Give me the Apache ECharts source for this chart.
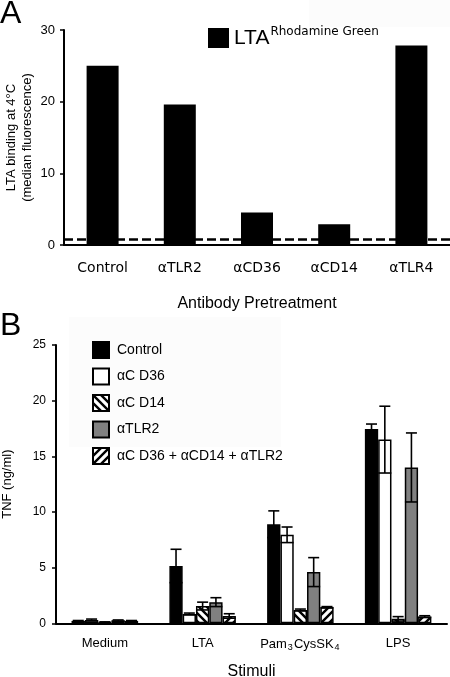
<!DOCTYPE html>
<html>
<head>
<meta charset="utf-8">
<script src="https://cdn.jsdelivr.net/npm/echarts@6/dist/echarts.min.js"></script>
<style>
html,body{margin:0;padding:0;background:#fff;}
#c{width:450px;height:677px;}
</style>
</head>
<body>
<div id="c"></div>
<script>
// ---- Panel A data ----
var catsA = ['Control', 'αTLR2', 'αCD36', 'αCD14', 'αTLR4'];
var valsA = [25.0, 19.6, 4.55, 2.9, 27.85];
var baselineA = 0.8;
var ticksA = [0, 10, 20, 30];

// ---- Panel B data ----
var catsB = ['Medium', 'LTA', 'Pam3CysSK4', 'LPS'];
var seriesNamesB = ['Control', 'αC D36', 'αC D14', 'αTLR2', 'αC D36 + αCD14 + αTLR2'];
var controlB = [0.2, 5.15, 8.9, 17.45];
var cd36B = [0.3, 0.84, 7.95, 16.5];
var cd14B = [0.1, 1.55, 1.2, 0.4];
var tlr2B = [0.25, 1.9, 4.6, 14.0];
var comboB = [0.2, 0.66, 1.45, 0.6];
var controlErr = [0.05, 1.5, 1.2, 0.45];
var cd36Err = [0.08, 0.08, 0.7, 3.0];
var cd14Err = [0.03, 0.35, 0.08, 0.2];
var tlr2Err = [0.05, 0.4, 1.3, 3.1];
var comboErr = [0.05, 0.2, 0.05, 0.08];
var ticksB = [0, 5, 10, 15, 20, 25];

function makePattern(dir) {
  var s = 8;
  var cv = document.createElement('canvas');
  cv.width = s; cv.height = s;
  var ctx = cv.getContext('2d');
  ctx.fillStyle = '#fff';
  ctx.fillRect(0, 0, s, s);
  ctx.strokeStyle = '#000';
  ctx.lineWidth = 2.4;
  ctx.beginPath();
  if (dir === 'back') {
    ctx.moveTo(-2, -2); ctx.lineTo(s + 2, s + 2);
    ctx.moveTo(-2, s - 2); ctx.lineTo(2, s + 2);
    ctx.moveTo(s - 2, -2); ctx.lineTo(s + 2, 2);
  } else {
    ctx.moveTo(-2, s + 2); ctx.lineTo(s + 2, -2);
    ctx.moveTo(-2, 2); ctx.lineTo(2, -2);
    ctx.moveTo(s - 2, s + 2); ctx.lineTo(s + 2, s - 2);
  }
  ctx.stroke();
  return {image: cv, repeat: 'repeat'};
}

var BW = 13.3;
var valsB = [controlB, cd36B, cd14B, tlr2B, comboB];
var errsB = [controlErr, cd36Err, cd14Err, tlr2Err, comboErr];
var colorsB = ['#000000', '#ffffff', makePattern('back'), '#808080', makePattern('fwd')];

var errData = [];
for (var s = 0; s < valsB.length; s++) {
  for (var c = 0; c < catsB.length; c++) {
    errData.push([c, s, valsB[s][c], errsB[s][c]]);
  }
}

var chart = echarts.init(document.getElementById('c'), null, {renderer: 'canvas'});

var fontA = 'Liberation Sans, Arial, sans-serif';

var barSeriesB = seriesNamesB.map(function (n, i) {
  return {
    name: n,
    type: 'bar',
    xAxisIndex: 1,
    yAxisIndex: 1,
    data: valsB[i],
    barWidth: BW,
    barGap: '0%',
    itemStyle: {color: colorsB[i], borderColor: '#000', borderWidth: 1.5},
    emphasis: {disabled: true},
    z: 2
  };
});

var option = {
  animation: false,
  backgroundColor: '#fff',
  graphic: [
    {type: 'rect', shape: {x: 309, y: 0, width: 141, height: 27}, style: {fill: '#fcfcfc'}, z: -1, silent: true},
    {type: 'rect', shape: {x: 69, y: 317, width: 212, height: 130}, style: {fill: '#fcfcfc'}, z: -1, silent: true},
    {type: 'text', x: 0, y: 14, style: {text: 'A', font: '32px ' + fontA, fill: '#000', verticalAlign: 'middle'}},
    {type: 'text', x: 0, y: 326, style: {text: 'B', font: '32px ' + fontA, fill: '#000', verticalAlign: 'middle'}}
  ],
  legend: [
    {
      data: ['LTA'],
      left: 208, top: 26,
      padding: 0,
      itemWidth: 21, itemHeight: 20,
      icon: 'rect',
      selectedMode: false,
      formatter: function () { return '{a|LTA}{b|Rhodamine Green}'; },
      textStyle: {
        rich: {
          a: {fontSize: 21, fontFamily: fontA, color: '#000', lineHeight: 24},
          b: {fontSize: 12, fontFamily: 'DejaVu Sans, sans-serif', color: '#000', verticalAlign: 'top', padding: [0, 0, 0, 1]}
        }
      }
    },
    {
      data: seriesNamesB,
      orient: 'vertical',
      left: 92, top: 341,
      padding: 0,
      itemWidth: 16, itemHeight: 16,
      itemGap: 8.5,
      icon: 'rect',
      selectedMode: false,
      itemStyle: {borderColor: '#000', borderWidth: 2},
      textStyle: {fontSize: 14, lineHeight: 16, fontFamily: fontA, color: '#000', padding: [0, 0, 0, 3]}
    }
  ],
  grid: [
    {left: 64, width: 386, top: 30, height: 215, outerBoundsMode: 'none', containLabel: false},
    {left: 56, width: 391, top: 345, height: 278.3, outerBoundsMode: 'none', containLabel: false}
  ],
  xAxis: [
    {
      type: 'category', gridIndex: 0, data: catsA,
      axisLine: {lineStyle: {color: '#000', width: 2}},
      axisTick: {length: 5, lineStyle: {color: '#000', width: 1.5}},
      axisLabel: {color: '#000', fontSize: 14, fontFamily: 'DejaVu Sans, sans-serif', margin: 16, interval: 0},
      name: 'Antibody Pretreatment', nameLocation: 'middle', nameGap: 51, nameMoveOverlap: false,
      nameTextStyle: {color: '#000', fontSize: 16, fontFamily: fontA}
    },
    {
      type: 'category', gridIndex: 1, data: catsB,
      axisLine: {lineStyle: {color: '#000', width: 2}},
      axisTick: {length: 4, lineStyle: {color: '#000', width: 1.5}},
      axisLabel: {
        color: '#000', fontSize: 13, fontFamily: fontA, margin: 14, interval: 0,
        formatter: function (v) {
          if (v === 'Pam3CysSK4') return '{n|Pam}{s|3}{n|CysSK}{s|4}';
          return '{n|' + v + '}';
        },
        rich: {
          n: {fontSize: 13, fontFamily: fontA, color: '#000'},
          s: {fontSize: 9, fontFamily: fontA, color: '#000', padding: [6, 1, 0, 1]}
        }
      },
      name: 'Stimuli', nameLocation: 'middle', nameGap: 40, nameMoveOverlap: false,
      nameTextStyle: {color: '#000', fontSize: 16, fontFamily: fontA}
    },
    {
      type: 'category', gridIndex: 1, data: catsB,
      axisLine: {show: false},
      axisTick: {inside: true, length: 4, lineStyle: {color: '#000', width: 1.5}},
      axisLabel: {show: false}
    }
  ],
  yAxis: [
    {
      type: 'value', gridIndex: 0, min: ticksA[0], max: ticksA[ticksA.length - 1], interval: 10,
      splitLine: {show: false},
      axisLine: {show: true, lineStyle: {color: '#000', width: 2}},
      axisTick: {show: true, length: 4, lineStyle: {color: '#000', width: 1.5}},
      axisLabel: {color: '#000', fontSize: 13, fontFamily: fontA, margin: 9},
      name: 'LTA binding at 4°C\n(median fluorescence)', nameLocation: 'middle', nameGap: 29, nameMoveOverlap: false,
      nameTextStyle: {color: '#000', fontSize: 13, fontFamily: fontA, lineHeight: 16}
    },
    {
      type: 'value', gridIndex: 1, min: ticksB[0], max: ticksB[ticksB.length - 1], interval: 5,
      splitLine: {show: false},
      axisLine: {show: true, lineStyle: {color: '#000', width: 2}},
      axisTick: {show: true, length: 4, lineStyle: {color: '#000', width: 1.5}},
      axisLabel: {color: '#000', fontSize: 12, fontFamily: fontA, margin: 10},
      name: 'TNF (ng/ml)', nameLocation: 'middle', nameGap: 42, nameMoveOverlap: false,
      nameTextStyle: {color: '#000', fontSize: 13, fontFamily: fontA}
    }
  ],
  series: [
    {
      name: 'LTA', type: 'bar', xAxisIndex: 0, yAxisIndex: 0,
      data: valsA, barWidth: 32,
      itemStyle: {color: '#000'},
      emphasis: {disabled: true},
      markLine: {
        silent: true, symbol: 'none', label: {show: false},
        lineStyle: {color: '#000', type: [9, 4], width: 2.5},
        data: [{yAxis: baselineA}]
      }
    }
  ].concat(barSeriesB).concat([
    {
      type: 'custom', xAxisIndex: 1, yAxisIndex: 1,
      data: errData,
      encode: {x: 0, y: 2},
      z: 5,
      silent: true,
      renderItem: function (params, api) {
        var cat = api.value(0), si = api.value(1), v = api.value(2), e = api.value(3);
        var cc = api.coord([cat, v]);
        var top = api.coord([cat, v + e])[1];
        var bot = api.coord([cat, Math.max(v - e, 0)])[1];
        var x = cc[0] + (si - 2) * BW;
        var st = {stroke: '#000', lineWidth: 1.6};
        return {
          type: 'group',
          children: [
            {type: 'line', shape: {x1: x, y1: top, x2: x, y2: bot}, style: st},
            {type: 'line', shape: {x1: x - 5.5, y1: top, x2: x + 5.5, y2: top}, style: st},
            {type: 'line', shape: {x1: x - 6.5, y1: bot, x2: x + 6.5, y2: bot}, style: st}
          ]
        };
      }
    }
  ])
};

chart.setOption(option);
</script>
</body>
</html>
